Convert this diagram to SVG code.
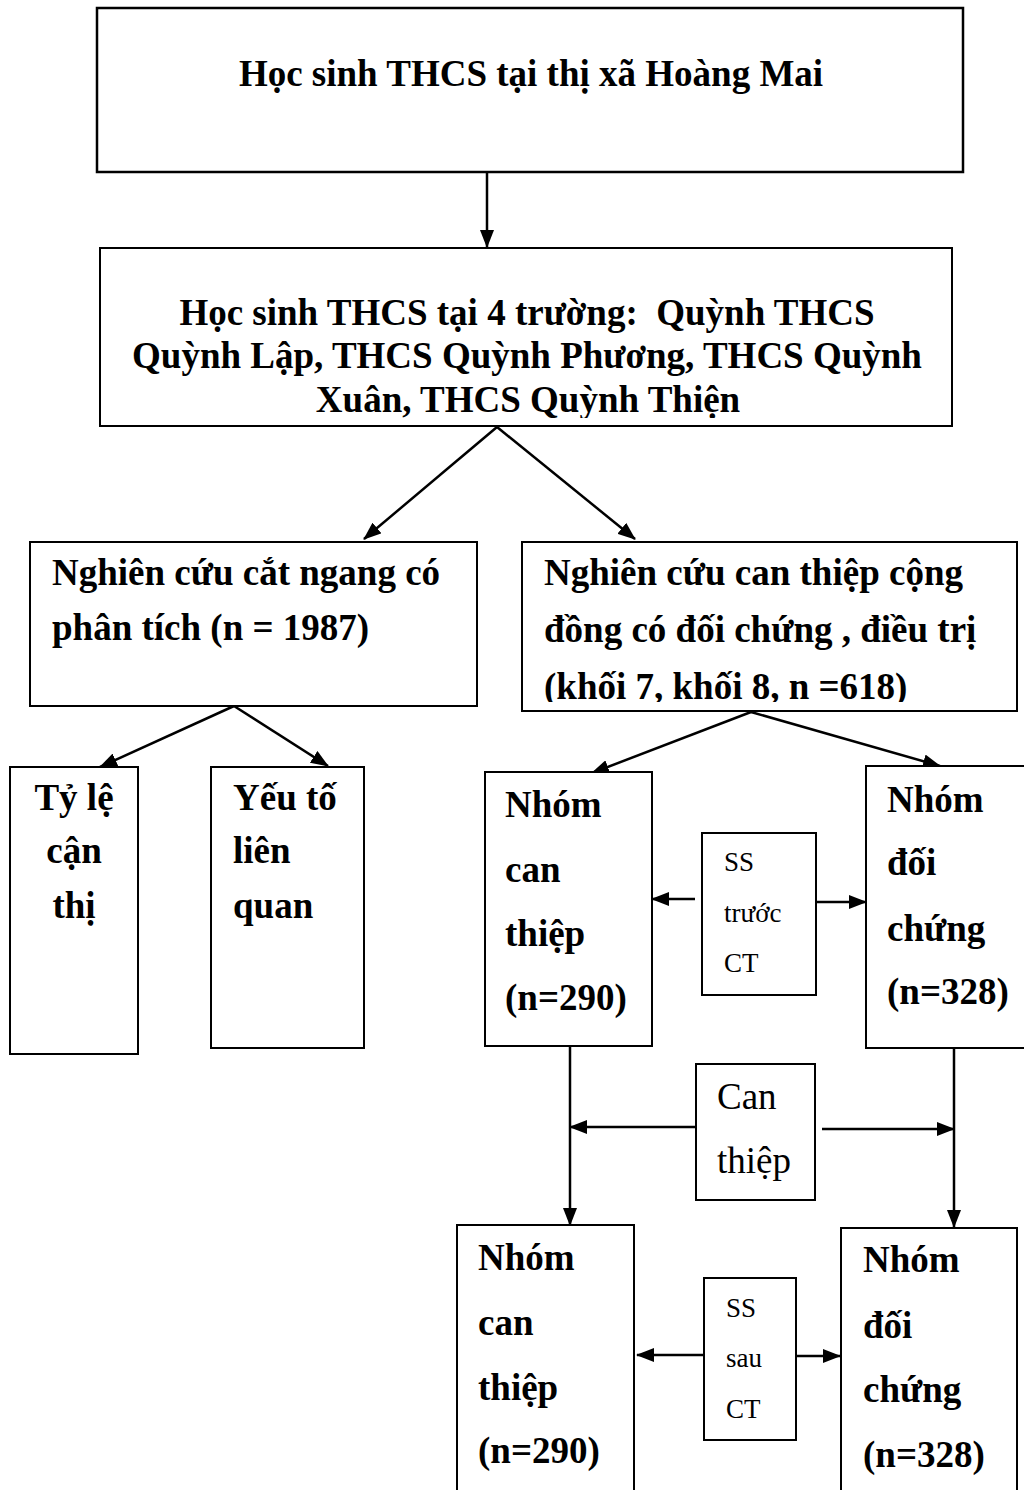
<svg xmlns="http://www.w3.org/2000/svg" width="1024" height="1490" viewBox="0 0 1024 1490">
<style>
  .box { fill: #fff; stroke: #000; stroke-width: 2; }
  .thick { stroke-width: 2.5; }
  .edge { fill: none; stroke: #000; stroke-width: 2.5; marker-end: url(#ah); }
  .b { font-family: "Liberation Serif", "Times New Roman", serif; font-weight: bold; font-size: 37px; fill: #000; }
  .r { font-family: "Liberation Serif", "Times New Roman", serif; font-weight: normal; font-size: 27px; fill: #000; }
  .rl { font-family: "Liberation Serif", "Times New Roman", serif; font-weight: normal; font-size: 37px; fill: #000; }
  .c { text-anchor: middle; }
</style>
<defs>
  <marker id="ah" markerUnits="userSpaceOnUse" markerWidth="18" markerHeight="14" refX="17" refY="7" orient="auto">
    <path d="M0,0 L18,7 L0,14 z" fill="#000"/>
  </marker>
  <clipPath id="clip2"><rect x="100" y="248" width="852" height="170"/></clipPath>
  <clipPath id="clip4"><rect x="522" y="542" width="495" height="160"/></clipPath>
</defs>
<rect width="1024" height="1490" fill="#fff"/>

<g id="connectors">
  <line class="edge" x1="487" y1="172" x2="487" y2="247"/>
  <line class="edge" x1="497" y1="427" x2="364" y2="539"/>
  <line class="edge" x1="497" y1="427" x2="635" y2="539"/>
  <line class="edge" x1="234" y1="706" x2="100" y2="767"/>
  <line class="edge" x1="234" y1="706" x2="328" y2="766"/>
  <line class="edge" x1="751" y1="712" x2="592" y2="773"/>
  <line class="edge" x1="751" y1="712" x2="940" y2="766"/>
  <line class="edge" x1="695" y1="899" x2="652" y2="899"/>
  <line class="edge" x1="816" y1="902" x2="866" y2="902"/>
  <line class="edge" x1="570" y1="1046" x2="570" y2="1225"/>
  <line class="edge" x1="954" y1="1048" x2="954" y2="1227"/>
  <line class="edge" x1="700" y1="1127" x2="570" y2="1127"/>
  <line class="edge" x1="822" y1="1129" x2="954" y2="1129"/>
  <line class="edge" x1="703" y1="1355" x2="637" y2="1355"/>
  <line class="edge" x1="796" y1="1356" x2="840" y2="1356"/>
</g>

<g id="n1">
  <rect class="box thick" x="97" y="8" width="866" height="164"/>
  <text class="b c" x="531" y="86">Học sinh THCS tại thị xã Hoàng Mai</text>
</g>

<g id="n2">
  <rect class="box" x="100" y="248" width="852" height="178"/>
  <g clip-path="url(#clip2)">
    <text class="b c" x="527" y="325">Học sinh THCS tại 4 trường: &#160;Quỳnh THCS</text>
    <text class="b c" x="527" y="368">Quỳnh Lập, THCS Quỳnh Phương, THCS Quỳnh</text>
    <text class="b c" x="528" y="412">Xuân, THCS Quỳnh Thiện</text>
  </g>
</g>

<g id="n3">
  <rect class="box" x="30" y="542" width="447" height="164"/>
  <text class="b" x="52" y="585">Nghiên cứu cắt ngang có</text>
  <text class="b" x="52" y="640">phân tích (n = 1987)</text>
</g>

<g id="n4">
  <rect class="box" x="522" y="542" width="495" height="169"/>
  <g clip-path="url(#clip4)">
    <text class="b" x="544" y="585">Nghiên cứu can thiệp cộng</text>
    <text class="b" x="544" y="642">đồng có đối chứng , điều trị</text>
    <text class="b" x="544" y="699">(khối 7, khối 8, n =618)</text>
  </g>
</g>

<g id="n5">
  <rect class="box" x="10" y="767" width="128" height="287"/>
  <text class="b c" x="74" y="810">Tỷ lệ</text>
  <text class="b c" x="74" y="863">cận</text>
  <text class="b c" x="74" y="918">thị</text>
</g>

<g id="n6">
  <rect class="box" x="211" y="767" width="153" height="281"/>
  <text class="b" x="233" y="810">Yếu tố</text>
  <text class="b" x="233" y="863">liên</text>
  <text class="b" x="233" y="918">quan</text>
</g>

<g id="n7">
  <rect class="box" x="485" y="772" width="167" height="274"/>
  <text class="b" x="505" y="817">Nhóm</text>
  <text class="b" x="505" y="882">can</text>
  <text class="b" x="505" y="946">thiệp</text>
  <text class="b" x="505" y="1010">(n=290)</text>
</g>

<g id="n8">
  <rect class="box" x="866" y="766" width="170" height="282"/>
  <text class="b" x="887" y="812">Nhóm</text>
  <text class="b" x="887" y="875">đối</text>
  <text class="b" x="887" y="941">chứng</text>
  <text class="b" x="887" y="1004">(n=328)</text>
</g>

<g id="n9">
  <rect class="box" x="702" y="833" width="114" height="162"/>
  <text class="r" x="724" y="871">SS</text>
  <text class="r" x="724" y="922">trước</text>
  <text class="r" x="724" y="972">CT</text>
</g>

<g id="n10">
  <rect class="box" x="696" y="1064" width="119" height="136"/>
  <text class="rl" x="717" y="1109">Can</text>
  <text class="rl" x="717" y="1173">thiệp</text>
</g>

<g id="n11">
  <rect class="box" x="457" y="1225" width="177" height="290"/>
  <text class="b" x="478" y="1270">Nhóm</text>
  <text class="b" x="478" y="1335">can</text>
  <text class="b" x="478" y="1400">thiệp</text>
  <text class="b" x="478" y="1463">(n=290)</text>
</g>

<g id="n12">
  <rect class="box" x="841" y="1228" width="176" height="290"/>
  <text class="b" x="863" y="1272">Nhóm</text>
  <text class="b" x="863" y="1338">đối</text>
  <text class="b" x="863" y="1402">chứng</text>
  <text class="b" x="863" y="1467">(n=328)</text>
</g>

<g id="n13">
  <rect class="box" x="704" y="1278" width="92" height="162"/>
  <text class="r" x="726" y="1317">SS</text>
  <text class="r" x="726" y="1367">sau</text>
  <text class="r" x="726" y="1418">CT</text>
</g>
</svg>
